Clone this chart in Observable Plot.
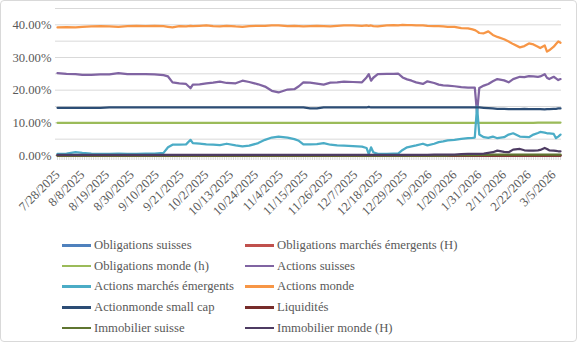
<!DOCTYPE html>
<html>
<head>
<meta charset="utf-8">
<script src="https://cdn.jsdelivr.net/npm/d3@7"></script>
<script src="https://cdn.jsdelivr.net/npm/@observablehq/plot@0.6"></script>
<style>
  html, body { margin: 0; padding: 0; background: #fff; }
  #wrap { position: relative; width: 577px; height: 342px; overflow: hidden; font-family: "Liberation Serif", serif; }
  #chart { position: absolute; left: 0; top: 0; }
  #legend { position: absolute; left: 62px; top: 235px; display: grid; grid-template-columns: 183px auto; grid-auto-rows: 20.7px; font-size: 12.7px; color: #595959; }
  .item { display: flex; align-items: center; white-space: nowrap; }
  .swatch { width: 29px; height: 2.5px; margin-right: 3px; flex: none; }
  #frame { position: absolute; left: 0; top: 0; width: 577px; height: 342px; box-sizing: border-box; border: 1px solid #d9d9d9; border-radius: 4px; pointer-events: none; }
</style>
</head>
<body>
<div id="wrap">
  <div id="chart"></div>
  <div id="legend"></div>
  <div id="frame"></div>
</div>
<script>
const dates = [
  "2025-07-28","2025-08-01","2025-08-05","2025-08-08","2025-08-12","2025-08-16","2025-08-20","2025-08-24","2025-08-28","2025-09-01",
  "2025-09-05","2025-09-09","2025-09-13","2025-09-15","2025-09-17","2025-09-20","2025-09-23","2025-09-25","2025-09-26","2025-09-29",
  "2025-10-02","2025-10-05","2025-10-08","2025-10-11","2025-10-15","2025-10-18","2025-10-21","2025-10-25","2025-10-28","2025-10-31",
  "2025-11-03","2025-11-07","2025-11-10","2025-11-12","2025-11-14","2025-11-17","2025-11-20","2025-11-23","2025-11-26","2025-11-29",
  "2025-12-02","2025-12-06","2025-12-10","2025-12-12","2025-12-13","2025-12-14","2025-12-15","2025-12-17","2025-12-21","2025-12-24",
  "2025-12-26","2025-12-28","2025-12-30","2026-01-01","2026-01-03","2026-01-06","2026-01-08","2026-01-11","2026-01-13","2026-01-15",
  "2026-01-17","2026-01-20","2026-01-23","2026-01-26","2026-01-28","2026-01-29","2026-01-30","2026-01-31","2026-02-02","2026-02-04",
  "2026-02-06","2026-02-08","2026-02-11","2026-02-13","2026-02-15","2026-02-18","2026-02-20","2026-02-22","2026-02-24","2026-02-26",
  "2026-02-27","2026-03-01","2026-03-02","2026-03-03","2026-03-05","2026-03-06","2026-03-07","2026-03-08"
];

const tickLabels = ["7/28/2025","8/8/2025","8/19/2025","8/30/2025","9/10/2025","9/21/2025","10/2/2025","10/13/2025","10/24/2025","11/4/2025","11/15/2025","11/26/2025","12/7/2025","12/18/2025","12/29/2025","1/9/2026","1/20/2026","1/31/2026","2/11/2026","2/22/2026","3/5/2026"];
const yLabelTicks = [0, 0.10, 0.20, 0.30, 0.40];
const yGridTicks = [0.05, 0.10, 0.15, 0.20, 0.25, 0.30, 0.35, 0.40, 0.45];

const seriesNames = [
  "Obligations suisses","Obligations marchés émergents (H)","Obligations monde (h)","Actions suisses",
  "Actions marchés émergents","Actions monde","Actionmonde small cap","Liquidités",
  "Immobilier suisse","Immobilier monde (H)"
];
const seriesColors = ["#4F81BD","#C0504D","#9BBB59","#8064A2","#4BACC6","#F79646","#2C4D75","#772C2A","#5F7530","#4D3B62"];

// values in percent
const obligationsSuisses = [
  0,0,0,0,0,0,0,0,0,0, 0,0,0,0,0,0,0,0,0,0, 0,0,0,0,0,0,0,0,0,0,
  0,0,0,0,0,0,0,0,0,0, 0,0,0,0,0,0,0,0,0,0, 0,0,0,0,0,0,0,0,0,0,
  0,0,0,0,0,0,0,0,0,0, 0,0,0,0,0,0,0,0,0,0, 0,0,0,0,0,0,0,0
];
const obligationsEmergents = [
  0,0,0,0,0,0,0,0,0,0, 0,0,0,0,0,0,0,0,0,0, 0,0,0,0,0,0,0,0,0,0,
  0,0,0,0,0,0,0,0,0,0, 0,0,0,0,0,0,0,0,0,0, 0,0,0,0,0,0,0,0,0,0,
  0,0,0,0,0,0,0,0,0,0, 0,0,0,0,0,0,0,0,0,0, 0,0,0,0,0,0,0,0
];
const obligationsMonde = [
  10,10,10,10,10,10,10,10,10,10, 10,10,10,10,10,10,10,10,10,10, 10,10,10,10,10,10,10,10,10,10,
  10,10,10,10,10,10,10,10,10,10, 10,10,10,10,10,10,10,10,10,10, 10,10,10,10,10,10,10,10,10,10,
  10,10,10,10,10,10,10,10,10,10, 10,10,10,10,10,10,10,10,10,10.1, 10.1,10.1,10.1,10.1,10.1,10.1,10.1,10.1
];
const actionsSuisses = [
  25.2,25.0,24.9,24.7,24.7,24.8,24.8,25.2,24.9,24.9,
  24.9,24.8,24.6,24.2,22.4,22.1,21.9,20.6,21.7,21.8,
  22.1,22.3,22.6,22.2,22.1,22.9,22.5,21.8,21.1,19.8,
  19.3,20.2,20.3,21.2,22.4,22.3,22.0,21.7,22.3,22.4,
  22.6,22.5,22.4,23.9,24.9,22.9,23.8,24.9,25.0,25.0,
  25.1,23.9,23.3,22.9,22.4,21.9,22.7,22.2,21.7,21.5,
  21.4,21.2,20.9,20.8,20.8,20.8,13.0,20.7,21.4,21.9,
  22.7,23.4,23.0,22.4,23.4,24.1,24.0,24.3,24.2,24.1,
  24.2,24.9,23.8,23.4,24.1,23.6,23.1,23.4
];
const actionsEmergents = [
  0.5,0.6,1.0,0.8,0.6,0.5,0.5,0.6,0.5,0.5,
  0.6,0.6,0.8,2.5,3.3,3.3,3.4,4.8,3.8,3.6,
  3.4,3.3,3.2,3.6,3.1,2.8,3.0,3.8,4.8,5.5,
  5.8,5.5,5.0,4.5,3.4,3.4,3.5,3.8,3.3,3.1,
  3.0,2.9,2.7,2.3,0.4,2.5,1.0,0.5,0.5,0.6,
  0.6,1.7,2.5,2.8,3.1,3.6,3.1,3.6,4.1,4.3,
  4.6,4.8,5.1,5.3,5.4,5.5,15.0,6.4,5.6,5.4,
  5.8,5.3,5.6,6.4,6.8,5.8,5.7,5.6,6.4,6.9,
  7.2,7.0,6.8,6.8,6.6,5.3,5.8,6.4
];
const actionsMonde = [
  39.2,39.3,39.2,39.4,39.5,39.6,39.5,39.4,39.6,39.7,
  39.6,39.7,39.6,39.4,39.2,39.6,39.5,39.7,39.6,39.7,
  39.8,39.6,39.5,39.7,39.5,39.4,39.6,39.7,39.7,39.8,
  39.8,39.6,39.7,39.6,39.5,39.6,39.7,39.6,39.5,39.7,
  39.8,39.8,39.7,39.8,39.7,39.8,39.6,39.5,39.8,39.9,
  39.8,40.0,39.9,39.9,39.8,39.8,39.7,39.6,39.6,39.5,
  39.4,39.4,39.0,38.9,38.6,38.4,38.0,37.5,37.4,38.0,
  36.9,36.3,35.6,34.9,34.1,33.1,33.5,34.3,34.0,33.3,
  32.9,33.7,31.8,32.2,33.3,34.1,34.9,34.5
];
const actionsSmallCap = [
  14.6,14.6,14.6,14.6,14.6,14.6,14.7,14.7,14.7,14.7,
  14.7,14.7,14.7,14.7,14.7,14.7,14.7,14.7,14.7,14.7,
  14.7,14.7,14.7,14.7,14.7,14.7,14.7,14.7,14.7,14.7,
  14.7,14.7,14.7,14.7,14.7,14.4,14.4,14.7,14.7,14.7,
  14.7,14.7,14.7,14.7,14.9,14.7,14.7,14.7,14.7,14.7,
  14.7,14.7,14.7,14.7,14.7,14.7,14.7,14.7,14.7,14.7,
  14.7,14.7,14.7,14.7,14.7,14.7,14.7,14.7,14.6,14.5,
  14.4,14.3,14.3,14.2,14.2,14.2,14.3,14.2,14.2,14.2,
  14.2,14.1,14.2,14.2,14.3,14.3,14.4,14.4
];
const liquidites = [
  0,0,0,0,0,0,0,0,0,0, 0,0,0,0,0,0,0,0,0,0, 0,0,0,0,0,0,0,0,0,0,
  0,0,0,0,0,0,0,0,0,0, 0,0,0,0,0,0,0,0,0,0, 0,0,0,0,0,0,0,0,0,0,
  0,0,0,0,0,0,0,0,0,0, 0,0,0,0,0,0,0,0,0,0, 0,0,0,0,0,0,0,0
];
const immobilierSuisse = [
  0,0,0,0,0,0,0,0,0,0, 0,0,0,0,0,0,0,0,0,0, 0,0,0,0,0,0,0,0,0,0,
  0,0,0,0,0,0,0,0,0,0, 0,0,0,0,0,0,0,0,0,0, 0,0,0,0,0,0,0,0,0,0,
  0,0.1,0.1,0.1,0.1,0.1,0.1,0.2,0.2,0.2, 0.3,0.3,0.3,0.3,0.3,0.3,0.3,0.3,0.3,0.3, 0.3,0.3,0.3,0.3,0.3,0.3,0.3,0.3
];
const immobilierMonde = [
  0.2,0.2,0.2,0.2,0.2,0.2,0.2,0.2,0.2,0.2,
  0.2,0.2,0.2,0.2,0.2,0.2,0.2,0.2,0.2,0.2,
  0.2,0.2,0.2,0.2,0.2,0.2,0.2,0.2,0.2,0.2,
  0.2,0.2,0.2,0.2,0.2,0.2,0.2,0.2,0.2,0.2,
  0.2,0.2,0.2,0.2,0.2,0.2,0.2,0.2,0.2,0.2,
  0.2,0.2,0.2,0.2,0.2,0.2,0.2,0.3,0.3,0.3,
  0.3,0.3,0.4,0.5,0.5,0.5,0.5,0.5,0.6,0.8,
  1.0,1.5,1.1,1.0,1.8,2.0,1.6,1.5,1.5,1.6,
  1.7,2.3,2.0,1.6,1.5,1.4,1.3,1.3
];

const seriesValues = [obligationsSuisses, obligationsEmergents, obligationsMonde, actionsSuisses,
  actionsEmergents, actionsMonde, actionsSmallCap, liquidites, immobilierSuisse, immobilierMonde];

const table = [];
seriesValues.forEach((vals, i) => {
  vals.forEach((v, j) => table.push({date: new Date(dates[j] + "T00:00:00Z"), value: v / 100, series: seriesNames[i]}));
});

const parseLabel = d3.utcParse("%m/%d/%Y");
const tickDates = tickLabels.map(parseLabel);
const labelByTime = new Map(tickDates.map((d, i) => [+d, tickLabels[i]]));
const xStart = new Date(dates[0] + "T00:00:00Z");
const xEnd = new Date(dates[dates.length - 1] + "T00:00:00Z");
const allDays = d3.utcDay.range(xStart, d3.utcDay.offset(xEnd, 1));

const chart = Plot.plot({
  width: 577,
  height: 232,
  marginLeft: 55,
  marginRight: 16,
  marginTop: 8,
  marginBottom: 77,
  x: {type: "utc", domain: [xStart, xEnd], range: [57, 560]},
  y: {domain: [0, 0.45]},
  color: {domain: seriesNames, range: seriesColors},
  style: {fontFamily: "'Liberation Serif', serif", fontSize: "12.7px", color: "#595959", background: "transparent", overflow: "visible"},
  marks: [
    Plot.gridY(yGridTicks, {stroke: "#d9d9d9", strokeOpacity: 1, strokeWidth: 1}),
    Plot.ruleY([0], {stroke: "#d9d9d9"}),
    Plot.axisX(allDays, {tickSize: 5, text: null, stroke: "#d9d9d9", strokeOpacity: 1, label: null}),
    Plot.axisY(yLabelTicks, {tickFormat: d => (d * 100).toFixed(2) + "%", tickSize: 0, tickPadding: 4, label: null, fill: "#595959"}),
    Plot.axisX(tickDates, {tickFormat: d => labelByTime.get(+d), tickRotate: -45, tickSize: 0, tickPadding: 17, label: null, fill: "#595959"}),
    Plot.line(table, {x: "date", y: "value", z: "series", stroke: "series", strokeWidth: 2.25, strokeLinejoin: "round", strokeLinecap: "round"})
  ]
});
document.getElementById("chart").appendChild(chart);

const legend = document.getElementById("legend");
seriesNames.forEach((name, i) => {
  const item = document.createElement("div");
  item.className = "item";
  const sw = document.createElement("span");
  sw.className = "swatch";
  sw.style.background = seriesColors[i];
  const tx = document.createElement("span");
  tx.textContent = name;
  item.appendChild(sw);
  item.appendChild(tx);
  legend.appendChild(item);
});
</script>
</body>
</html>
